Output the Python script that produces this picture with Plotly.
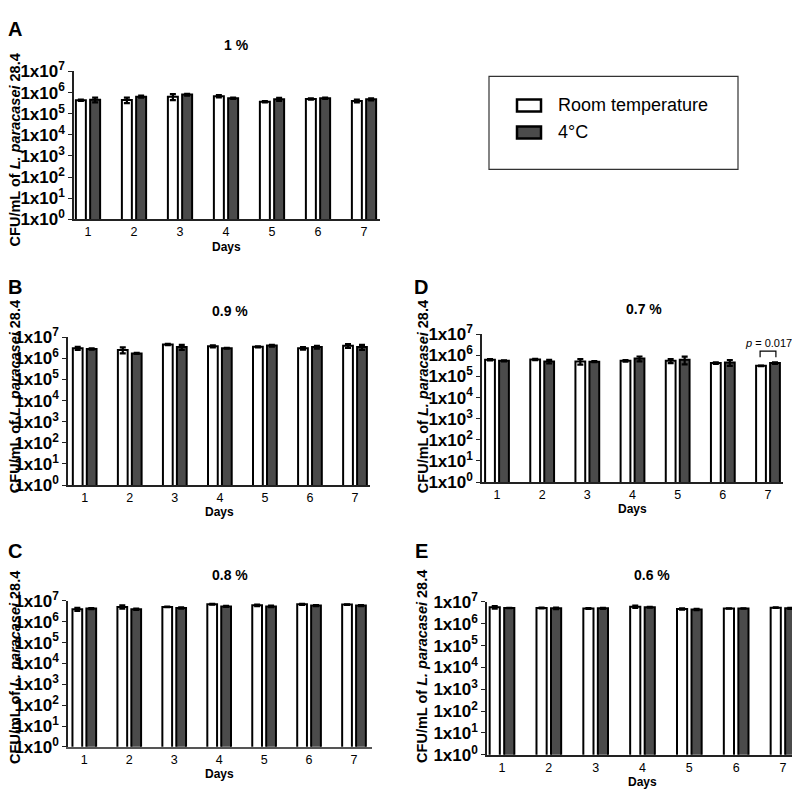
import plotly.graph_objects as go

# ---------------- data ----------------
days = [1, 2, 3, 4, 5, 6, 7]
tick_vals = [1, 10, 100, 1000, 10000, 100000, 1000000, 10000000]
tick_text = ["1x10<sup>%d</sup>" % i for i in range(8)]

# Panel A : 1 %
rt_A = [4.3e5, 4.5e5, 6.4e5, 6.7e5, 3.7e5, 5.0e5, 4.0e5]
rt_A_err = [0.3e5, 1.3e5, 2.0e5, 0.8e5, 0.3e5, 0.4e5, 0.6e5]
c4_A = [4.6e5, 6.4e5, 8.0e5, 5.4e5, 4.8e5, 5.4e5, 4.8e5]
c4_A_err = [1.2e5, 0.7e5, 0.8e5, 0.4e5, 0.8e5, 0.4e5, 0.5e5]

# Panel B : 0.9 %
rt_B = [3.0e6, 2.5e6, 4.5e6, 3.7e6, 3.5e6, 3.0e6, 3.9e6]
rt_B_err = [0.5e6, 0.8e6, 0.3e6, 0.4e6, 0.2e6, 0.4e6, 0.8e6]
c4_B = [2.8e6, 1.7e6, 3.4e6, 3.0e6, 4.0e6, 3.4e6, 3.4e6]
c4_B_err = [0.2e6, 0.1e6, 0.9e6, 0.1e6, 0.4e6, 0.5e6, 0.9e6]

# Panel C : 0.8 %
rt_C = [4.0e6, 5.2e6, 5.2e6, 6.9e6, 6.2e6, 6.9e6, 6.7e6]
rt_C_err = [0.7e6, 0.9e6, 0.2e6, 0.3e6, 0.5e6, 0.4e6, 0.2e6]
c4_C = [4.3e6, 4.0e6, 4.6e6, 5.5e6, 5.5e6, 6.0e6, 6.0e6]
c4_C_err = [0.2e6, 0.3e6, 0.3e6, 0.3e6, 0.5e6, 0.3e6, 0.3e6]

# Panel D : 0.7 %
rt_D = [6.2e5, 6.4e5, 5.1e5, 5.5e5, 5.5e5, 4.3e5, 3.2e5]
rt_D_err = [0.5e5, 0.5e5, 1.5e5, 0.5e5, 1.2e5, 0.4e5, 0.1e5]
c4_D = [5.5e5, 5.1e5, 5.0e5, 7.0e5, 6.2e5, 4.6e5, 4.3e5]
c4_D_err = [0.3e5, 1.0e5, 0.3e5, 1.8e5, 2.5e5, 1.4e5, 0.4e5]

# Panel E : 0.6 %
rt_E = [5.7e6, 5.3e6, 5.0e6, 6.1e6, 4.8e6, 5.0e6, 5.5e6]
rt_E_err = [0.8e6, 0.2e6, 0.2e6, 0.8e6, 0.3e6, 0.1e6, 0.2e6]
c4_E = [5.3e6, 5.1e6, 5.1e6, 5.7e6, 4.5e6, 5.0e6, 5.1e6]
c4_E_err = [0.1e6, 0.4e6, 0.3e6, 0.2e6, 0.3e6, 0.1e6, 0.3e6]

series_names = ["Room temperature", "4°C"]
panel_titles = {"A": "1 %", "B": "0.9 %", "C": "0.8 %", "D": "0.7 %", "E": "0.6 %"}
p_label = "<i>p</i> = 0.017"
y_title = "<b>CFU/mL of <i>L. paracasei</i> 28.4</b>"

# ---------------- layout geometry ----------------
# Empirical mapping between figure pixels and the photographed page:
# page_x = OFFX + fig_x ; page_y = OFFY + SY * fig_y
OFFX, OFFY, SY = 8, 17.5, 0.973
W, H = 792, 789
FONT = "Liberation Sans, Arial, sans-serif"
RT_COLOR = "white"
C4_COLOR = "#4b4b4b"

# panel: (axis suffix, x0, x1, y_top(1e7), y_bottom(1e0), day1 centre, day7 centre)  [page px]
geom = {
    "A": ("", 74, 380, 69, 217, 88, 364),
    "B": ("2", 68, 370, 335, 483, 84.7, 355),
    "D": ("3", 482, 783, 332, 480, 497, 768),
    "C": ("4", 68, 372, 599, 745, 84.3, 354),
    "E": ("5", 487, 800, 600, 753, 502, 783),
}
data = {
    "A": (rt_A, rt_A_err, c4_A, c4_A_err),
    "B": (rt_B, rt_B_err, c4_B, c4_B_err),
    "C": (rt_C, rt_C_err, c4_C, c4_C_err),
    "D": (rt_D, rt_D_err, c4_D, c4_D_err),
    "E": (rt_E, rt_E_err, c4_E, c4_E_err),
}
axis_color = {"A": "#222", "B": "#222", "D": "#222", "C": "#555", "E": "#222"}
title_pos = {"A": (236, 43), "B": (230, 309), "D": (644, 307), "C": (230, 573), "E": (652, 573)}
letter_pos = {"A": (15, 27), "B": (15, 285), "D": (421, 285), "C": (15, 549), "E": (421, 549)}
ytitle_pos = {"A": (15, 148), "B": (15, 395), "D": (423, 395), "C": (15, 666), "E": (422, 665)}
days_pos = {"A": 245, "B": 510, "D": 507, "C": 772, "E": 780}

fig = go.Figure()
layout = dict(
    width=W, height=H, margin=dict(l=0, r=0, t=0, b=0, pad=0),
    paper_bgcolor="white", plot_bgcolor="white",
    font=dict(family=FONT, color="black"),
    barmode="group", bargap=0.38, bargroupgap=0.3,
    showlegend=False,
)
annotations = []
shapes = []


def px_x(px):
    return (px - OFFX) / W


def px_y(py):
    return 1 - ((py - OFFY) / SY) / H


for key, (suf, x0, x1, yt, yb, c1, c7) in geom.items():
    rt, rte, c4, c4e = data[key]
    xa = "x" + suf
    ya = "y" + suf
    for vals, errs, col, name in ((rt, rte, RT_COLOR, series_names[0]),
                                  (c4, c4e, C4_COLOR, series_names[1])):
        fig.add_trace(go.Bar(
            x=days, y=vals, name=name, xaxis=xa, yaxis=ya,
            marker=dict(color=col, line=dict(color="black", width=2)),
            error_y=dict(type="data", array=errs, visible=True,
                         color="black", thickness=2.2, width=3),
        ))
    s = (c7 - c1) / 6.0
    x1c = min(x1, OFFX + W)
    xr = [1 - (c1 - x0) / s, 7 + (x1c - c7) / s]
    layout["xaxis" + suf] = dict(
        domain=[px_x(x0), px_x(x1c)], range=xr, anchor=ya,
        tickmode="array", tickvals=days, ticktext=[str(d) for d in days],
        tickfont=dict(size=12.5, family=FONT), ticks="", ticklen=0,
        showline=True, linecolor=axis_color[key], linewidth=1.5,
        showgrid=False, zeroline=False, fixedrange=True,
    )
    layout["yaxis" + suf] = dict(
        domain=[px_y(yb), px_y(yt)], type="log", range=[0, 7], anchor=xa,
        tickmode="array", tickvals=tick_vals, ticktext=["<b>%s</b>" % t for t in tick_text],
        tickfont=dict(size=17, family=FONT), ticks="outside", ticklen=4,
        tickwidth=1.2, tickcolor="#222",
        showline=True, linecolor="#222", linewidth=1.5,
        showgrid=False, zeroline=False, fixedrange=True,
    )
    # Days label
    dx = (c1 + c7) / 2
    annotations.append(dict(text="<b>Days</b>", x=px_x(dx), y=px_y(days_pos[key]),
                            xref="paper", yref="paper", showarrow=False,
                            font=dict(size=12, family=FONT),
                            xanchor="center", yanchor="middle"))
    # panel title
    tx, ty = title_pos[key]
    annotations.append(dict(text="<b>%s</b>" % panel_titles[key], x=px_x(tx), y=px_y(ty),
                            xref="paper", yref="paper", showarrow=False,
                            font=dict(size=14, family=FONT), xanchor="center", yanchor="middle"))
    # panel letter
    lx, ly = letter_pos[key]
    annotations.append(dict(text="<b>%s</b>" % key, x=px_x(lx), y=px_y(ly),
                            xref="paper", yref="paper", showarrow=False,
                            font=dict(size=20, family=FONT), xanchor="center", yanchor="middle"))
    # y title
    yx, yy = ytitle_pos[key]
    annotations.append(dict(text=y_title, x=px_x(yx), y=px_y(yy), xref="paper", yref="paper",
                            showarrow=False, textangle=-90, font=dict(size=14.5, family=FONT),
                            xanchor="center", yanchor="middle"))

# p-value bracket on panel D, day 7
off = 0.175
shapes.append(dict(type="path", xref="x3", yref="paper",
                   path="M %f,%f L %f,%f L %f,%f L %f,%f" % (
                       7 - off, px_y(355), 7 - off, px_y(349),
                       7 + off, px_y(349), 7 + off, px_y(355)),
                   line=dict(color="black", width=1.2)))
annotations.append(dict(text=p_label, x=7, y=px_y(341), xref="x3", yref="paper",
                        showarrow=False, font=dict(size=11, family=FONT),
                        xanchor="center", yanchor="middle"))

# legend box (drawn)
shapes.append(dict(type="rect", xref="paper", yref="paper",
                   x0=px_x(489), x1=px_x(738), y0=px_y(167), y1=px_y(74),
                   line=dict(color="#333", width=1.2), fillcolor="rgba(0,0,0,0)"))
legend_rows = [(103, RT_COLOR, series_names[0]), (130, C4_COLOR, series_names[1])]
for ly, col, name in legend_rows:
    shapes.append(dict(type="rect", xref="paper", yref="paper",
                       x0=px_x(517), x1=px_x(541), y0=px_y(ly + 6), y1=px_y(ly - 6),
                       line=dict(color="black", width=2.5), fillcolor=col))
    annotations.append(dict(text=name, x=px_x(556), y=px_y(ly), xref="paper", yref="paper",
                            showarrow=False, font=dict(size=18, family=FONT),
                            xanchor="left", yanchor="middle"))

layout["annotations"] = annotations
layout["shapes"] = shapes
fig.update_layout(**layout)
fig.write_html("out.html")
